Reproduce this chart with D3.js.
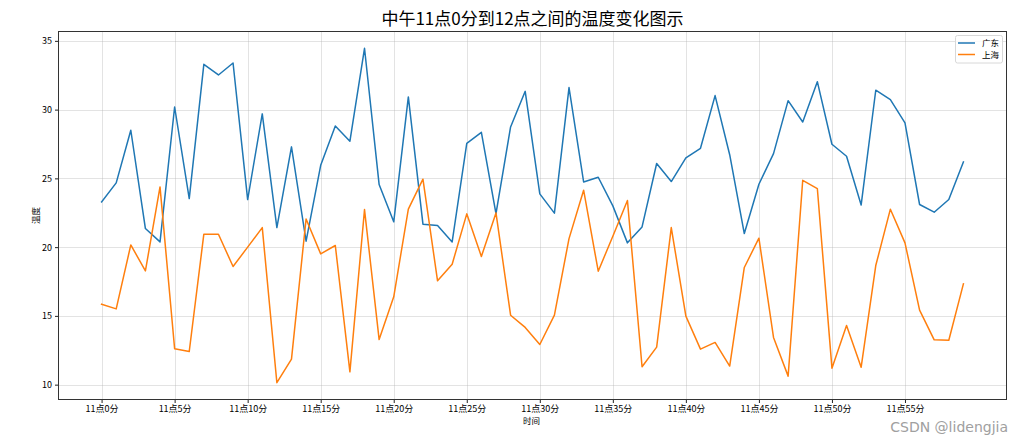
<!DOCTYPE html>
<html>
<head>
<meta charset="utf-8">
<script src="https://cdn.jsdelivr.net/npm/d3@7"></script>
<style>
html,body{margin:0;padding:0;background:#fff;}
svg{display:block;font-family:"Noto Sans CJK SC","DejaVu Sans",sans-serif;}
</style>
</head>
<body>
<svg id="chart" width="1034" height="435"></svg>
<script>
const minutes = d3.range(0, 60);
const xLabels = minutes.map(m => "11点" + m + "分");
const tickMinutes = [0,5,10,15,20,25,30,35,40,45,50,55];
const yTicks = [10,15,20,25,30,35];
const seriesNames = ["广东", "上海"];
const guangdong = [23.29,24.67,28.50,21.35,20.38,30.19,23.53,33.29,32.52,33.39,
  23.46,29.69,21.42,27.29,20.43,25.95,28.81,27.70,34.46,24.55,
  21.84,30.92,21.67,21.57,20.38,27.55,28.35,22.44,28.74,31.33,
  23.87,22.47,31.60,24.74,25.08,23.00,20.31,21.47,26.08,24.77,
  26.49,27.19,31.02,26.72,20.99,24.57,26.80,30.65,29.10,32.03,
  27.48,26.61,23.07,31.41,30.73,29.03,23.10,22.54,23.46,26.20];
const shanghai = [15.85,15.51,20.16,18.27,24.38,12.61,12.41,20.94,20.94,18.59,
  20.00,21.42,10.14,11.86,22.05,19.51,20.12,10.93,22.73,13.28,
  16.39,22.76,24.94,17.55,18.76,22.42,19.32,22.49,15.05,14.16,
  12.92,15.05,20.62,24.14,18.25,20.79,23.39,11.30,12.73,21.42,
  14.98,12.58,13.07,11.35,18.52,20.65,13.43,10.62,24.86,24.26,
  11.20,14.30,11.27,18.66,22.76,20.31,15.42,13.26,13.23,17.33];
const colors = ["#1f77b4", "#ff7f0e"];

const svg = d3.select("#chart");
const L = 58.5, R = 1006.5, T = 31.5, B = 399.5;

const x = d3.scaleLinear().domain([-2.95, 61.95]).range([L, R]);
const y = d3.scaleLinear().domain([8.92, 35.68]).range([B, T]);

// grid
const grid = svg.append("g");
grid.selectAll(".gx").data(tickMinutes).enter().append("line")
  .attr("x1", d => Math.round(x(d)) + 0.5).attr("x2", d => Math.round(x(d)) + 0.5)
  .attr("y1", T).attr("y2", B)
  .attr("stroke", "#b0b0b0").attr("stroke-opacity", 0.35).attr("stroke-width", 1);
grid.selectAll(".gy").data(yTicks).enter().append("line")
  .attr("y1", d => Math.round(y(d)) + 0.5).attr("y2", d => Math.round(y(d)) + 0.5)
  .attr("x1", L).attr("x2", R)
  .attr("stroke", "#b0b0b0").attr("stroke-opacity", 0.35).attr("stroke-width", 1);

// lines
const line = d3.line().x((d, i) => x(minutes[i])).y(d => y(d));
[guangdong, shanghai].forEach((s, k) => {
  svg.append("path").datum(s).attr("d", line)
    .attr("fill", "none").attr("stroke", colors[k]).attr("stroke-width", 1.5)
    .attr("stroke-linejoin", "round").attr("stroke-linecap", "square");
});

// axes
const xAxis = d3.axisBottom(x).tickValues(tickMinutes).tickFormat(d => xLabels[d]).tickSize(3.5).tickPadding(2.5);
const gx = svg.append("g").attr("transform", `translate(0,${B})`).call(xAxis);
gx.select(".domain").remove();
gx.selectAll("line").attr("stroke", "#222");
gx.selectAll("text").attr("font-size", 9).attr("fill", "#000")
  .attr("font-family", '"Noto Sans CJK SC", sans-serif');

const yAxis = d3.axisLeft(y).tickValues(yTicks).tickSize(3.5).tickPadding(3);
const gy = svg.append("g").attr("transform", `translate(${L},0)`).call(yAxis);
gy.select(".domain").remove();
gy.selectAll("line").attr("stroke", "#222");
gy.selectAll("text").attr("font-size", 9).attr("fill", "#000")
  .attr("font-family", '"Noto Sans CJK SC", sans-serif');

// frame
svg.append("rect").attr("x", L).attr("y", T).attr("width", R - L).attr("height", B - T)
  .attr("fill", "none").attr("stroke", "#333").attr("stroke-width", 1);

// labels
svg.append("text").attr("x", (L + R) / 2).attr("y", 25).attr("text-anchor", "middle")
  .attr("font-size", 17).attr("fill", "#000").text("中午11点0分到12点之间的温度变化图示");
svg.append("text").attr("x", (L + R) / 2 - 1).attr("y", 423.5).attr("text-anchor", "middle")
  .attr("font-size", 8.5).attr("fill", "#000").text("时间");
svg.append("text").attr("transform", `translate(38.5,${(T + B) / 2}) rotate(-90)`)
  .attr("text-anchor", "middle").attr("font-size", 8.5).attr("fill", "#000").text("温度");

// legend
const lg = svg.append("g");
lg.append("rect").attr("x", 955.5).attr("y", 35.5).attr("width", 47).attr("height", 27.5)
  .attr("rx", 2).attr("fill", "#fff").attr("fill-opacity", 0.8)
  .attr("stroke", "#d8d8d8").attr("stroke-width", 1);
seriesNames.forEach((n, k) => {
  const yy = 43 + k * 11.5;
  lg.append("line").attr("x1", 958).attr("x2", 975).attr("y1", yy).attr("y2", yy)
    .attr("stroke", colors[k]).attr("stroke-width", 1.5);
  lg.append("text").attr("x", 982).attr("y", yy + 3).attr("font-size", 8.5)
    .attr("fill", "#000").text(n);
});

// watermark
svg.append("text").attr("x", 1008).attr("y", 432).attr("text-anchor", "end")
  .attr("font-size", 14).attr("fill", "#a0a0a0").attr("font-family", '"DejaVu Sans", sans-serif')
  .text("CSDN @lidengjia");
</script>
</body>
</html>
